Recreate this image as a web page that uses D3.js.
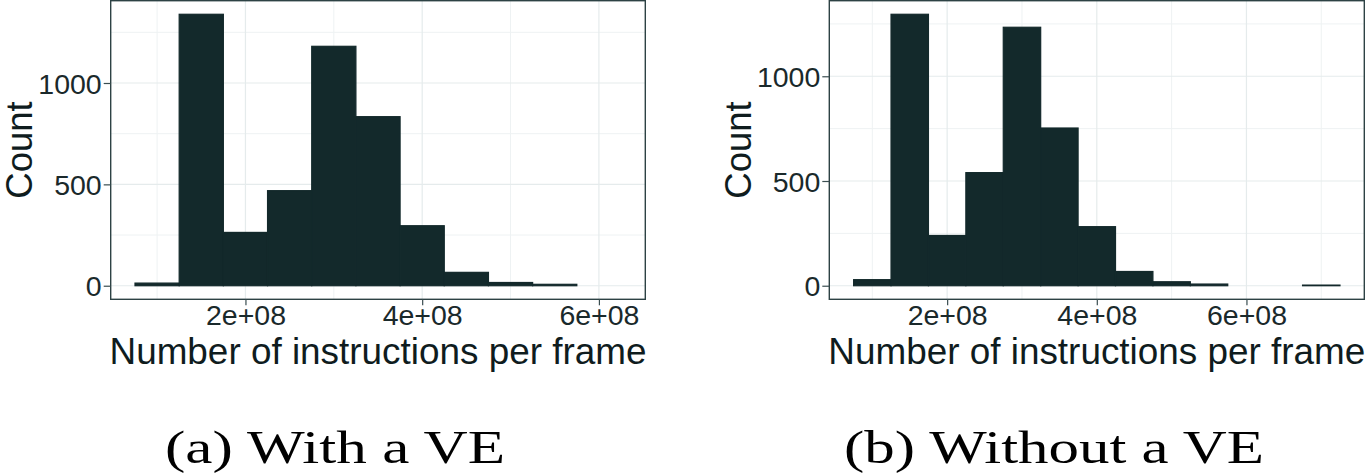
<!DOCTYPE html>
<html>
<head>
<meta charset="utf-8">
<script src="https://cdn.jsdelivr.net/npm/d3@7"></script>
<style>
  html, body { margin: 0; padding: 0; background: #ffffff; }
  svg { display: block; }
</style>
</head>
<body>
<svg id="chart" width="1366" height="474"></svg>
<script>
// ---- data ----
const binWidth = 5e7;
const leftBinStarts  = [75e6, 125e6, 175e6, 225e6, 275e6, 325e6, 375e6, 425e6, 475e6, 525e6, 575e6];
const leftCounts     = [13, 1339, 263, 469, 1181, 834, 296, 66, 16, 7, 0];
const rightBinStarts = [75e6, 125e6, 175e6, 225e6, 275e6, 325e6, 375e6, 425e6, 475e6, 525e6, 575e6, 625e6, 675e6];
const rightCounts    = [29, 1296, 240, 540, 1234, 753, 282, 68, 19, 8, 0, 0, 3];
const xTickValues = [2e8, 4e8, 6e8];
const xTickLabels = ["2e+08", "4e+08", "6e+08"];
const xMinorValues = [1e8, 3e8, 5e8, 7e8];
const yTickValues = [0, 500, 1000];
const yTickLabels = ["0", "500", "1000"];
const yMinorValues = [250, 750, 1250];
const xTitle = "Number of instructions per frame";
const yTitle = "Count";
const captions = ["(a) With a VE", "(b) Without a VE"];

const svg = d3.select("#chart");
const barColor = "#13292b";
const textColor = "#1a292b";

function panel(cfg) {
  const data = cfg.starts.map((s, i) => ({x0: s, x1: s + binWidth, n: cfg.counts[i]}));
  const lo = d3.min(data, d => d.x0), hi = d3.max(data, d => d.x1);
  const xpad = (hi - lo) * 0.05;
  const maxN = d3.max(data, d => d.n);
  const x = d3.scaleLinear().domain([lo - xpad, hi + xpad]).range([cfg.left, cfg.right]);
  const y = d3.scaleLinear().domain([-maxN * 0.05, maxN * 1.05]).range([cfg.bottom, cfg.top]);
  const g = svg.append("g");

  // minor grid
  g.selectAll(".gxm").data(xMinorValues.filter(v => v > x.domain()[0] && v < x.domain()[1]))
    .join("line").attr("x1", d => x(d)).attr("x2", d => x(d))
    .attr("y1", cfg.top).attr("y2", cfg.bottom)
    .attr("stroke", "#eef2f3").attr("stroke-width", 1);
  g.selectAll(".gym").data(yMinorValues.filter(v => v < y.domain()[1]))
    .join("line").attr("x1", cfg.left).attr("x2", cfg.right)
    .attr("y1", d => y(d)).attr("y2", d => y(d))
    .attr("stroke", "#eef2f3").attr("stroke-width", 1);
  // major grid
  g.selectAll(".gx").data(xTickValues.filter(v => v < x.domain()[1]))
    .join("line").attr("x1", d => x(d)).attr("x2", d => x(d))
    .attr("y1", cfg.top).attr("y2", cfg.bottom)
    .attr("stroke", "#e5ebec").attr("stroke-width", 1.2);
  g.selectAll(".gy").data(yTickValues)
    .join("line").attr("x1", cfg.left).attr("x2", cfg.right)
    .attr("y1", d => y(d)).attr("y2", d => y(d))
    .attr("stroke", "#e5ebec").attr("stroke-width", 1.2);

  // bars
  g.selectAll(".bar").data(data.filter(d => d.n > 0))
    .join("rect")
    .attr("x", d => x(d.x0))
    .attr("width", d => x(d.x1) - x(d.x0))
    .attr("y", d => y(d.n))
    .attr("height", d => y(0) - y(d.n))
    .attr("fill", barColor)
    .attr("stroke", barColor).attr("stroke-width", 1.2);

  // panel border
  g.append("rect").attr("x", cfg.left).attr("y", cfg.top)
    .attr("width", cfg.right - cfg.left).attr("height", cfg.bottom - cfg.top)
    .attr("fill", "none").attr("stroke", "#2d4244").attr("stroke-width", 1.4);

  // x axis
  const xAxis = d3.axisBottom(x).tickValues(xTickValues.filter(v => v < x.domain()[1]))
    .tickFormat(d => xTickLabels[xTickValues.indexOf(d)]).tickSize(6).tickSizeOuter(0);
  const gx = g.append("g").attr("transform", `translate(0,${cfg.bottom})`).call(xAxis);
  gx.select(".domain").remove();
  gx.selectAll(".tick line").attr("stroke", "#3a4d50").attr("stroke-width", 1.2);
  gx.selectAll(".tick text").attr("font-family", "Liberation Sans, Arial, sans-serif")
    .attr("font-size", 28.5).attr("fill", textColor).attr("dy", null).attr("y", 26);

  // y axis
  const yAxis = d3.axisLeft(y).tickValues(yTickValues)
    .tickFormat(d => yTickLabels[yTickValues.indexOf(d)]).tickSize(7).tickSizeOuter(0).tickPadding(2);
  const gy = g.append("g").attr("transform", `translate(${cfg.left},0)`).call(yAxis);
  gy.select(".domain").remove();
  gy.selectAll(".tick line").attr("stroke", "#3a4d50").attr("stroke-width", 1.2);
  gy.selectAll(".tick text").attr("font-family", "Liberation Sans, Arial, sans-serif")
    .attr("font-size", 28.5).attr("fill", textColor).attr("dy", "0.36em");

  // titles
  g.append("text").attr("x", (cfg.left + cfg.right) / 2).attr("y", 364)
    .attr("text-anchor", "middle").attr("font-family", "Liberation Sans, Arial, sans-serif")
    .attr("font-size", 36).attr("fill", "#0f1c1e")
    .attr("textLength", 537).attr("lengthAdjust", "spacingAndGlyphs").text(xTitle);
  g.append("text").attr("transform", `translate(${cfg.yTitleX},${(cfg.top + cfg.bottom) / 2}) rotate(-90)`)
    .attr("text-anchor", "middle").attr("font-family", "Liberation Sans, Arial, sans-serif")
    .attr("font-size", 36.5).attr("fill", "#0f1c1e").text(yTitle);

  // caption
  g.append("text").attr("x", cfg.capX).attr("y", 463)
    .attr("text-anchor", "middle").attr("font-family", "Liberation Serif, DejaVu Serif, serif")
    .attr("font-size", 47).attr("fill", "#000")
    .attr("textLength", cfg.capW).attr("lengthAdjust", "spacingAndGlyphs")
    .text(cfg.caption);
}

panel({starts: leftBinStarts, counts: leftCounts, left: 110.7, right: 645.3, top: 0.7, bottom: 299.3,
       yTitleX: 31.5, caption: captions[0], capX: 335, capW: 340});
panel({starts: rightBinStarts, counts: rightCounts, left: 829.3, right: 1364.3, top: 0.7, bottom: 299.3,
       yTitleX: 750.5, caption: captions[1], capX: 1054, capW: 420});
</script>
</body>
</html>
